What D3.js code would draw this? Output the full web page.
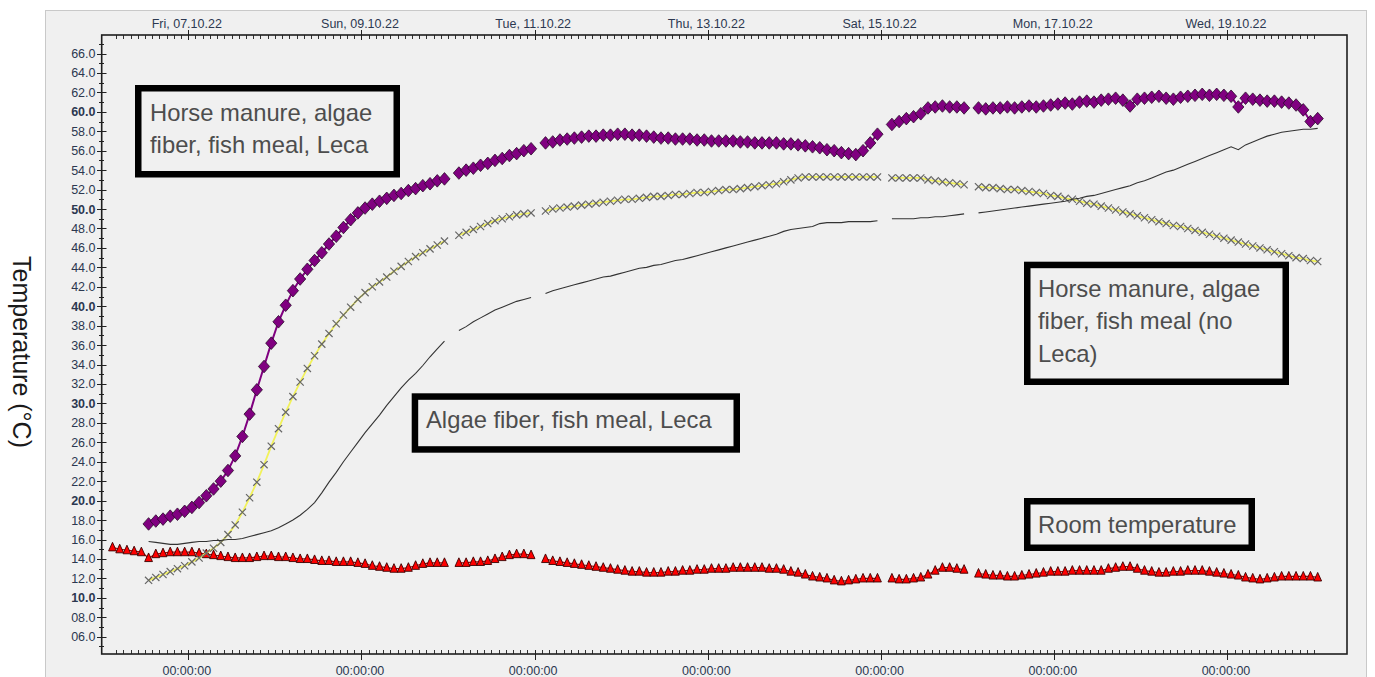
<!DOCTYPE html>
<html>
<head>
<meta charset="utf-8">
<script src="https://cdn.jsdelivr.net/npm/d3@7/dist/d3.min.js"></script>
<style>
  html, body { margin: 0; padding: 0; background: #ffffff; }
  svg { display: block; }
</style>
</head>
<body>
<svg id="chart" width="1375" height="677"></svg>
<script>
// ---------------- DATA ----------------
// logging interval and start hours (hours after 06.10.2022 00:00 UTC)
const stepHours = 2;
const startHourSamples = 13;   // composting samples
const startHourRoom = 3;       // room temperature

const dayTickLabels = ["Fri, 07.10.22","Sun, 09.10.22","Tue, 11.10.22","Thu, 13.10.22","Sat, 15.10.22","Mon, 17.10.22","Wed, 19.10.22"];
const yTickValues = [6,8,10,12,14,16,18,20,22,24,26,28,30,32,34,36,38,40,42,44,46,48,50,52,54,56,58,60,62,64,66];
const yBoldValues = [10,20,30,40,50,60];

// Horse manure, algae fiber, fish meal, Leca (purple diamonds)
const horseLeca = [17.6,17.9,18.1,18.4,18.6,18.9,19.3,19.8,20.5,21.2,22.0,23.1,24.6,26.6,28.9,31.4,33.8,36.2,38.4,40.1,
41.6,42.8,43.8,44.7,45.5,46.4,47.2,48.1,48.9,49.6,50.1,50.5,50.8,51.1,51.4,51.6,51.9,52.1,52.4,52.6,
52.9,53.1,null,53.7,54.0,54.2,54.5,54.7,55.0,55.2,55.5,55.7,56.0,56.2,null,56.8,56.9,57.1,57.2,57.3,
57.4,57.5,57.5,57.6,57.6,57.7,57.7,57.6,57.6,57.5,57.4,57.3,57.3,57.2,57.2,57.2,57.1,57.1,57.0,57.0,
57.0,57.0,56.9,56.9,56.8,56.8,56.8,56.8,56.7,56.7,56.6,56.5,56.4,56.3,56.1,56.0,55.8,55.7,55.6,56.0,
56.8,57.7,null,58.7,59.0,59.3,59.5,59.8,60.4,60.5,60.6,60.5,60.5,60.4,null,60.4,60.3,60.4,60.4,60.5,
60.4,60.5,60.6,60.5,60.6,60.7,60.8,60.9,60.8,61.0,61.1,61.0,61.2,61.3,61.4,61.2,60.6,61.3,61.4,61.5,
61.6,61.4,61.3,61.5,61.6,61.7,61.8,61.7,61.8,61.7,61.6,60.5,61.4,61.3,61.2,61.1,61.1,61.0,60.9,60.7,
60.2,59.0,59.3];

// Horse manure, algae fiber, fish meal (no Leca) (grey crosses, yellow line)
const horseNoLeca = [11.8,12.1,12.4,12.7,13.0,13.3,13.7,14.1,14.6,15.1,15.7,16.5,17.5,18.8,20.3,21.9,23.7,25.6,27.4,29.1,
30.7,32.2,33.6,34.9,36.1,37.2,38.2,39.1,39.9,40.7,41.4,42.0,42.5,43.0,43.6,44.1,44.6,45.1,45.5,45.9,
46.3,46.7,null,47.3,47.6,47.9,48.2,48.5,48.8,49.0,49.2,49.4,49.5,49.6,null,49.8,50.0,50.1,50.2,50.3,
50.4,50.5,50.6,50.7,50.8,50.9,51.0,51.0,51.1,51.2,51.3,51.3,51.4,51.5,51.5,51.6,51.7,51.7,51.8,51.9,
52.0,52.0,52.1,52.2,52.3,52.4,52.5,52.6,52.8,53.0,53.2,53.3,53.3,53.3,53.3,53.3,53.3,53.3,53.3,53.3,
53.3,53.3,null,53.2,53.2,53.2,53.2,53.2,53.0,52.9,52.8,52.7,52.6,52.5,null,52.3,52.2,52.2,52.1,52.0,
52.0,51.9,51.8,51.7,51.6,51.4,51.3,51.1,51.0,50.8,50.6,50.5,50.3,50.1,49.9,49.7,49.5,49.3,49.1,48.9,
48.7,48.5,48.3,48.2,48.0,47.8,47.6,47.4,47.2,47.0,46.8,46.6,46.4,46.2,46.0,45.8,45.6,45.4,45.2,45.0,
44.9,44.7,44.6];

// Algae fiber, fish meal, Leca (thin dark line)
const algaeLeca = [15.8,15.7,15.6,15.5,15.5,15.6,15.7,15.8,15.8,15.9,15.9,16.0,16.0,16.1,16.3,16.5,16.7,16.9,17.2,17.6,
18.0,18.5,19.1,19.8,20.8,21.9,22.9,24.0,25.0,26.0,27.0,27.9,28.8,29.8,30.7,31.6,32.4,33.1,33.9,34.8,
35.6,36.4,null,37.5,37.9,38.4,38.8,39.2,39.6,39.9,40.2,40.5,40.7,40.9,null,41.3,41.6,41.8,42.0,42.2,
42.4,42.6,42.8,43.0,43.1,43.3,43.5,43.7,43.9,44.0,44.2,44.3,44.5,44.7,44.8,45.0,45.2,45.4,45.6,45.8,
46.0,46.2,46.4,46.6,46.8,47.0,47.2,47.4,47.7,47.9,48.0,48.1,48.2,48.5,48.6,48.6,48.6,48.7,48.7,48.7,
48.7,48.8,null,49.0,49.0,49.0,49.0,49.1,49.1,49.2,49.2,49.3,49.4,49.5,null,49.6,49.7,49.8,49.9,50.0,
50.1,50.2,50.3,50.4,50.5,50.6,50.7,50.8,51.0,51.1,51.3,51.4,51.6,51.8,52.0,52.2,52.4,52.7,52.9,53.2,
53.5,53.8,54.0,54.3,54.6,54.9,55.2,55.5,55.8,56.1,56.4,56.1,56.6,56.9,57.2,57.5,57.7,57.9,58.0,58.1,
58.2,58.2,58.3];

// Room temperature (red triangles)
const roomTemp = [15.2,15.0,14.9,14.8,14.7,14.1,14.5,14.6,14.7,14.7,14.7,14.7,14.6,14.5,14.4,14.3,14.2,14.1,14.1,14.1,
14.2,14.3,14.3,14.2,14.2,14.1,14.0,14.0,13.9,13.8,13.8,13.7,13.7,13.7,13.6,13.5,13.3,13.2,13.1,13.0,
13.0,13.1,13.3,13.5,13.6,13.6,13.6,null,13.6,13.6,13.7,13.7,13.8,14.0,14.2,14.4,14.5,14.5,14.4,null,
14.0,13.8,13.7,13.6,13.5,13.4,13.3,13.2,13.1,13.0,12.9,12.8,12.7,12.7,12.6,12.6,12.6,12.7,12.7,12.8,
12.8,12.9,12.9,13.0,13.0,13.0,13.1,13.1,13.1,13.1,13.1,13.0,13.0,12.9,12.7,12.6,12.4,12.2,12.1,12.0,
11.8,11.7,11.8,11.9,12.0,12.0,12.0,null,12.0,11.9,11.9,12.0,12.1,12.4,12.8,13.1,13.1,13.0,12.9,null,
12.5,12.4,12.3,12.3,12.2,12.2,12.3,12.4,12.5,12.6,12.7,12.7,12.7,12.8,12.8,12.8,12.8,12.8,13.0,13.1,
13.2,13.2,13.0,12.8,12.7,12.6,12.6,12.7,12.7,12.8,12.8,12.8,12.7,12.6,12.5,12.4,12.3,12.1,12.0,11.9,
12.0,12.1,12.2,12.2,12.2,12.2,12.2,12.1];

const boxLabels = [
  ["Horse manure, algae", "fiber, fish meal, Leca"],
  ["Algae fiber, fish meal, Leca"],
  ["Horse manure, algae", "fiber, fish meal (no", "Leca)"],
  ["Room temperature"]
];

// ---------------- HELPERS ----------------
const base = Date.UTC(2022, 9, 6, 0, 0, 0);
const hourMs = 3600 * 1000;
function toSeries(values, startHour) {
  return values.map((v, i) => ({ t: new Date(base + (startHour + i * stepHours) * hourMs), v: v }));
}
const sHL = toSeries(horseLeca, startHourSamples);
const sHN = toSeries(horseNoLeca, startHourSamples);
const sAL = toSeries(algaeLeca, startHourSamples);
const sRT = toSeries(roomTemp, startHourRoom);

const svg = d3.select("#chart");
const FONT = "'Liberation Sans', Arial, Helvetica, sans-serif";
const labelColor = "#2c3850";

// frame geometry
const frame = { left: 101.7, right: 1347, top: 35, bottom: 654 };

const tStart = new Date(base + startHourRoom * hourMs);
const tEnd = new Date(base + (startHourRoom + (roomTemp.length - 1) * stepHours) * hourMs);
const x = d3.scaleUtc().domain([tStart, tEnd]).range([112.5, 1317.7]);
const y = d3.scaleLinear().domain([6, 66]).range([636.7, 53.5]);

// panel background
svg.append("rect").attr("x", 0).attr("y", 0).attr("width", 1375).attr("height", 677).attr("fill", "#ffffff");
svg.append("rect").attr("x", 45.5).attr("y", 10.5).attr("width", 1321).attr("height", 670)
  .attr("fill", "#f0f0f0").attr("stroke", "#c9c9c9").attr("stroke-width", 1);

// y-axis title
svg.append("text")
  .attr("transform", "translate(13,352) rotate(90)")
  .attr("text-anchor", "middle")
  .attr("font-family", FONT).attr("font-size", 25).attr("fill", "#1a1a1a")
  .text("Temperature (°C)");

// ---------------- AXES ----------------
// Y labels via d3 axis
const yAxis = d3.axisLeft(y).tickValues(yTickValues).tickFormat(d3.format("04.1f")).tickSize(0).tickPadding(0);
const gy = svg.append("g").attr("transform", `translate(95.5,0)`).call(yAxis);
gy.select(".domain").remove();
gy.selectAll("text")
  .attr("font-family", FONT).attr("font-size", 12.5).attr("fill", labelColor)
  .attr("font-weight", d => yBoldValues.includes(d) ? "bold" : "normal");

// y tick marks (crossing the axis)
const yMinor = d3.range(5, 68, 1);
svg.append("g").selectAll("line").data(yMinor).join("line")
  .attr("x1", d => d % 2 === 0 ? 97 : 99)
  .attr("x2", d => d % 2 === 0 ? 106.5 : 104)
  .attr("y1", d => Math.round(y(d)) + 0.5).attr("y2", d => Math.round(y(d)) + 0.5)
  .attr("stroke", "#222").attr("stroke-width", 1);

// X ticks
const minorTimes = d3.utcHour.every(2).range(tStart, new Date(+tEnd + 1));
const majorTimes = d3.utcDay.every(1).range(tStart, tEnd).filter(d => d.getUTCDate() % 2 === 1);

// top minor
svg.append("g").selectAll("line").data(minorTimes).join("line")
  .attr("x1", d => Math.round(x(d)) + 0.5).attr("x2", d => Math.round(x(d)) + 0.5)
  .attr("y1", frame.top).attr("y2", frame.top + 4)
  .attr("stroke", "#333").attr("stroke-width", 1);
// bottom minor
svg.append("g").selectAll("line").data(minorTimes).join("line")
  .attr("x1", d => Math.round(x(d)) + 0.5).attr("x2", d => Math.round(x(d)) + 0.5)
  .attr("y1", frame.bottom - 4).attr("y2", frame.bottom)
  .attr("stroke", "#333").attr("stroke-width", 1);
// major ticks
svg.append("g").selectAll("line").data(majorTimes).join("line")
  .attr("x1", d => Math.round(x(d)) + 0.5).attr("x2", d => Math.round(x(d)) + 0.5)
  .attr("y1", frame.top - 5).attr("y2", frame.top + 5)
  .attr("stroke", "#222").attr("stroke-width", 1);
svg.append("g").selectAll("line").data(majorTimes).join("line")
  .attr("x1", d => Math.round(x(d)) + 0.5).attr("x2", d => Math.round(x(d)) + 0.5)
  .attr("y1", frame.bottom - 4).attr("y2", frame.bottom + 6)
  .attr("stroke", "#222").attr("stroke-width", 1);

// top labels (dates) via d3 axis
const xTop = d3.axisTop(x).tickValues(majorTimes).tickFormat((d, i) => dayTickLabels[i]).tickSize(0).tickPadding(0);
const gxt = svg.append("g").attr("transform", "translate(-2,28)").call(xTop);
gxt.select(".domain").remove();
gxt.selectAll("text").attr("font-family", FONT).attr("font-size", 12.5).attr("fill", labelColor).attr("dy", 0);

// bottom labels (times)
const xBot = d3.axisBottom(x).tickValues(majorTimes).tickFormat(d3.utcFormat("%H:%M:%S")).tickSize(0).tickPadding(0);
const gxb = svg.append("g").attr("transform", "translate(-2,675)").call(xBot);
gxb.select(".domain").remove();
gxb.selectAll("text").attr("font-family", FONT).attr("font-size", 12.5).attr("fill", labelColor).attr("dy", 0);

// frame
svg.append("rect")
  .attr("x", frame.left).attr("y", frame.top)
  .attr("width", frame.right - frame.left).attr("height", frame.bottom - frame.top)
  .attr("fill", "none").attr("stroke", "#1e1e1e").attr("stroke-width", 1.6);

// ---------------- SERIES ----------------
const line = d3.line().defined(d => d.v != null).x(d => x(d.t)).y(d => y(d.v));
const plot = svg.append("g");

// room temperature
plot.append("path").datum(sRT).attr("d", line).attr("fill", "none").attr("stroke", "#b00000").attr("stroke-width", 1.2);
plot.append("g").selectAll("path").data(sRT.filter(d => d.v != null)).join("path")
  .attr("transform", d => `translate(${x(d.t)},${y(d.v)})`)
  .attr("d", "M0,-5L3.9,3.6L-3.9,3.6Z")
  .attr("fill", "#ff0000").attr("stroke", "#3a0000").attr("stroke-width", 0.9);

// horse manure, no Leca
plot.append("path").datum(sHN).attr("d", line).attr("fill", "none").attr("stroke", "#f2f25a").attr("stroke-width", 1.8);
plot.append("g").selectAll("path").data(sHN.filter(d => d.v != null)).join("path")
  .attr("transform", d => `translate(${x(d.t)},${y(d.v)})`)
  .attr("d", "M-3.6,-3.6L3.6,3.6M-3.6,3.6L3.6,-3.6")
  .attr("fill", "none").attr("stroke", "#666666").attr("stroke-width", 1.2);

// algae fiber, fish meal, Leca
plot.append("path").datum(sAL).attr("d", line).attr("fill", "none").attr("stroke", "#333333").attr("stroke-width", 1.1);

// horse manure with Leca
plot.append("path").datum(sHL).attr("d", line).attr("fill", "none").attr("stroke", "#800080").attr("stroke-width", 2);
plot.append("g").selectAll("path").data(sHL.filter(d => d.v != null)).join("path")
  .attr("transform", d => `translate(${x(d.t)},${y(d.v)})`)
  .attr("d", "M0,-6.3L5.6,0L0,6.3L-5.6,0Z")
  .attr("fill", "#800080").attr("stroke", "#2a0a2a").attr("stroke-width", 0.8);

// ---------------- TEXT BOXES ----------------
const boxes = [
  { x0: 135, y0: 85, x1: 400, y1: 177.5, tx: 150, ty: 120.5 },
  { x0: 411.7, y0: 393.3, x1: 740, y1: 452.7, tx: 426, ty: 427.5 },
  { x0: 1024, y0: 261.7, x1: 1289, y1: 385, tx: 1038, ty: 296.7 },
  { x0: 1024, y0: 498, x1: 1255, y1: 551, tx: 1038, ty: 532.5 }
];
const sw = 6.5;
const gb = svg.append("g").selectAll("g").data(boxes).join("g");
gb.append("rect")
  .attr("x", d => d.x0 + sw / 2).attr("y", d => d.y0 + sw / 2)
  .attr("width", d => d.x1 - d.x0 - sw).attr("height", d => d.y1 - d.y0 - sw)
  .attr("fill", "#f0f0f0").attr("stroke", "#000").attr("stroke-width", sw);
gb.each(function(d, i) {
  const t = d3.select(this).append("text")
    .attr("font-family", FONT).attr("font-size", 23.8).attr("fill", "#4d4d4d");
  boxLabels[i].forEach((s, k) => {
    t.append("tspan").attr("x", d.tx).attr("y", d.ty + k * 32.5).text(s);
  });
});
</script>
</body>
</html>
